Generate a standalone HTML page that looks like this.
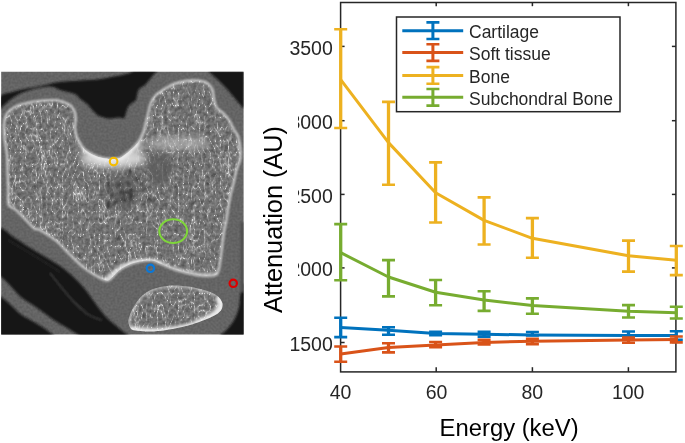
<!DOCTYPE html>
<html><head><meta charset="utf-8"><style>
html,body{margin:0;padding:0;background:#fff;width:685px;height:443px;overflow:hidden}
svg{position:absolute;left:0;top:0;will-change:transform}
text{font-family:"Liberation Sans",sans-serif}
</style></head><body>
<svg width="685" height="443" viewBox="0 0 685 443">
<defs>
<filter id="tex" x="0" y="0" width="1" height="1" color-interpolation-filters="sRGB">
 <feTurbulence type="turbulence" baseFrequency="0.19 0.085" numOctaves="2" seed="7" result="n"/>
 <feColorMatrix in="n" type="matrix" values="-1 0 0 0 1  -1 0 0 0 1  -1 0 0 0 1  0 0 0 0 1" result="inv"/>
 <feComponentTransfer in="inv" result="lines"><feFuncR type="gamma" amplitude="1" exponent="12" offset="0"/><feFuncG type="gamma" amplitude="1" exponent="12" offset="0"/><feFuncB type="gamma" amplitude="1" exponent="12" offset="0"/></feComponentTransfer>
 <feTurbulence type="fractalNoise" baseFrequency="0.28" numOctaves="2" seed="2" result="fn0"/><feColorMatrix in="fn0" type="matrix" values="1 0 0 0 0  1 0 0 0 0  1 0 0 0 0  0 0 0 0 1" result="fn"/>
 <feComposite in="lines" in2="fn" operator="arithmetic" k1="0" k2="0.40" k3="0.30" k4="0.275" result="sc"/>
 <feGaussianBlur in="sc" stdDeviation="0.65" result="sb"/>
 <feComposite in="sb" in2="SourceAlpha" operator="in"/>
</filter>
<filter id="nz" x="0" y="0" width="1" height="1" color-interpolation-filters="sRGB">
 <feTurbulence type="fractalNoise" baseFrequency="0.45" numOctaves="1" seed="5" result="fn"/>
 <feColorMatrix in="fn" type="matrix" values="0 0 0 0 0  0 0 0 0 0  0 0 0 0 0  0.25 0 0 0 -0.05" result="a"/>
 <feComposite in="a" in2="SourceAlpha" operator="in" result="b"/>
 <feMerge><feMergeNode in="SourceGraphic"/><feMergeNode in="b"/></feMerge>
</filter>
<filter id="bl1"><feGaussianBlur stdDeviation="0.8"/></filter>
<filter id="bl2"><feGaussianBlur stdDeviation="3"/></filter>
<filter id="bl3"><feGaussianBlur stdDeviation="1.6"/></filter>
<clipPath id="ctc"><rect x="1.2" y="71.8" width="242.4" height="262.8"/></clipPath>
<clipPath id="femc"><path d="M7.0,155.0 C6.7,150.8 6.0,148.3 5.5,145.0 C5.0,141.7 4.5,138.3 4.2,135.0 C4.0,131.7 3.8,128.0 4.0,125.0 C4.2,122.0 4.5,119.3 5.3,117.0 C6.1,114.7 6.9,112.9 9.0,111.0 C11.1,109.1 15.0,106.8 18.0,105.5 C21.0,104.2 23.7,103.8 27.0,103.0 C30.3,102.2 32.9,101.5 38.0,101.0 C43.1,100.5 52.4,99.7 57.6,100.3 C62.8,100.9 66.3,102.9 69.0,104.5 C71.7,106.1 72.9,107.8 74.0,110.0 C75.1,112.2 75.6,115.1 75.8,118.0 C76.0,120.9 74.7,124.4 74.9,127.6 C75.1,130.8 75.5,133.8 76.8,137.0 C78.1,140.2 80.6,144.3 82.5,146.8 C84.4,149.3 85.6,150.4 88.0,152.0 C90.4,153.6 94.0,155.4 97.0,156.5 C100.0,157.6 103.3,158.1 106.0,158.5 C108.7,158.9 110.5,159.2 113.0,159.0 C115.5,158.8 118.2,158.9 121.0,157.5 C123.8,156.1 127.2,153.0 130.0,150.6 C132.8,148.2 135.4,145.9 137.6,143.0 C139.8,140.1 141.4,137.2 143.0,133.0 C144.6,128.8 145.7,123.1 147.0,118.0 C148.3,112.9 149.5,106.4 151.0,102.6 C152.5,98.8 153.5,97.4 156.0,95.0 C158.5,92.6 162.6,90.1 165.8,88.2 C169.0,86.3 171.6,84.7 175.4,83.4 C179.2,82.1 185.0,81.1 188.8,80.6 C192.6,80.1 195.4,80.2 198.4,80.6 C201.4,81.0 204.7,81.5 207.0,83.0 C209.3,84.5 211.1,86.8 212.3,89.5 C213.5,92.2 213.3,96.0 214.0,99.0 C214.7,102.0 214.9,105.0 216.5,107.4 C218.1,109.8 221.2,111.1 223.3,113.2 C225.4,115.3 227.2,117.3 229.0,120.0 C230.8,122.7 232.5,127.0 233.9,129.5 C235.3,132.0 236.6,132.8 237.5,135.0 C238.4,137.2 239.0,140.2 239.5,143.0 C240.0,145.8 240.5,149.2 240.6,152.0 C240.7,154.8 240.5,157.5 240.0,160.0 C239.5,162.5 238.2,164.7 237.5,167.0 C236.8,169.3 236.2,171.3 235.5,174.0 C234.8,176.7 234.3,180.0 233.5,183.4 C232.7,186.8 231.5,190.6 230.7,194.2 C229.9,197.8 229.4,200.7 228.7,205.0 C228.0,209.3 227.2,215.3 226.4,220.0 C225.6,224.7 224.6,228.2 223.8,233.0 C223.0,237.8 222.4,244.0 221.8,249.0 C221.2,254.0 220.6,259.4 220.0,263.0 C219.4,266.6 219.2,268.5 218.5,270.5 C217.8,272.5 217.8,274.1 215.5,275.0 C213.2,275.9 208.2,276.0 205.0,276.0 C201.8,276.0 199.5,275.4 196.0,274.8 C192.5,274.2 188.0,273.4 184.0,272.3 C180.0,271.2 176.0,270.0 172.0,268.5 C168.0,267.0 163.4,264.8 160.0,263.5 C156.6,262.2 155.2,260.8 151.8,260.5 C148.5,260.2 143.9,260.7 139.9,261.5 C135.9,262.3 131.4,263.7 127.9,265.2 C124.4,266.7 121.8,268.3 119.0,270.5 C116.2,272.7 113.1,276.7 111.0,278.4 C108.9,280.1 108.9,281.0 106.3,280.5 C103.7,280.0 99.0,277.4 95.3,275.3 C91.6,273.2 88.2,271.2 84.2,268.0 C80.2,264.8 76.3,260.9 71.6,256.3 C66.9,251.7 61.1,244.9 55.8,240.5 C50.5,236.1 43.5,232.0 40.0,230.0 C36.5,228.0 37.0,230.5 34.5,228.7 C32.0,226.9 28.2,222.2 25.0,219.0 C21.8,215.8 18.1,211.9 15.4,209.5 C12.7,207.1 9.8,207.9 8.6,204.7 C7.4,201.4 8.4,195.8 8.2,190.0 C8.0,184.2 7.7,175.8 7.5,170.0 C7.3,164.2 7.3,159.2 7.0,155.0 Z"/></clipPath>
<clipPath id="patc"><path d="M128.4,322.0 C128.2,319.8 128.9,318.2 129.6,316.0 C130.3,313.8 131.3,311.5 132.6,309.0 C133.9,306.5 135.7,303.2 137.6,300.8 C139.5,298.4 141.5,296.2 144.0,294.3 C146.5,292.4 149.3,290.6 152.5,289.3 C155.7,288.0 159.4,287.1 163.2,286.5 C166.9,285.9 170.6,285.3 175.0,285.4 C179.4,285.4 184.9,286.0 189.9,286.8 C194.9,287.6 201.0,289.2 204.8,290.3 C208.7,291.4 210.6,292.1 213.0,293.3 C215.4,294.5 217.4,295.8 219.0,297.5 C220.6,299.2 222.1,301.5 222.5,303.5 C222.9,305.5 222.4,307.8 221.5,309.5 C220.6,311.2 219.0,312.6 217.0,314.0 C215.0,315.4 212.1,316.7 209.3,318.0 C206.5,319.3 203.5,320.4 200.3,321.6 C197.1,322.8 193.4,324.1 189.9,325.1 C186.4,326.1 183.7,326.8 179.5,327.6 C175.3,328.5 169.8,329.6 165.0,330.2 C160.2,330.8 155.1,331.4 150.6,331.5 C146.1,331.6 141.3,331.2 138.0,330.8 C134.7,330.4 132.6,330.5 131.0,329.0 C129.4,327.5 128.6,324.2 128.4,322.0 Z"/></clipPath>
</defs>
<g clip-path="url(#ctc)">
<rect x="0" y="70" width="246" height="268" fill="#6d6d6d" filter="url(#nz)"/>
<g filter="url(#bl1)">
<path d="M0.0,96.5 C2.2,93.6 9.0,93.1 13.5,91.8 C18.0,90.5 22.6,89.5 27.0,88.6 C31.4,87.7 36.2,87.0 40.0,86.2 C43.8,85.4 47.0,84.7 50.0,84.0 C53.0,83.3 53.0,82.9 58.0,82.3 C63.0,81.7 73.2,81.1 80.0,80.6 C86.8,80.1 92.7,80.0 99.0,79.2 C105.3,78.4 112.8,76.8 118.0,75.8 C123.2,74.8 127.2,73.7 130.0,72.9 C132.8,72.1 130.5,71.3 135.0,71.0 C139.5,70.7 153.7,70.7 157.0,71.0 C160.3,71.3 156.2,71.7 155.0,73.0 C153.8,74.3 151.7,77.0 150.0,79.0 C148.3,81.0 146.8,83.3 145.0,85.0 C143.2,86.7 140.3,87.3 139.0,89.0 C137.7,90.7 137.5,93.2 137.0,95.0 C136.5,96.8 136.8,98.7 136.0,100.0 C135.2,101.3 133.3,101.8 132.0,103.0 C130.7,104.2 129.0,105.3 128.0,107.0 C127.0,108.7 126.7,111.2 126.0,113.0 C125.3,114.8 125.3,117.2 124.0,118.0 C122.7,118.8 120.9,117.4 118.4,117.5 C115.9,117.6 112.0,118.8 108.8,118.5 C105.6,118.2 101.8,117.2 99.2,116.0 C96.6,114.8 95.3,113.2 93.4,111.3 C91.5,109.4 89.9,106.6 87.7,104.5 C85.5,102.4 82.0,100.5 80.0,98.8 C78.0,97.1 78.0,95.6 76.0,94.5 C74.0,93.4 70.7,92.8 68.0,92.0 C65.3,91.2 62.0,90.7 60.0,90.0 C58.0,89.3 57.7,88.6 56.0,88.0 C54.3,87.4 52.7,86.5 50.0,86.5 C47.3,86.5 43.3,87.2 40.0,87.8 C36.7,88.4 33.3,89.0 30.0,90.0 C26.7,91.0 23.3,91.8 20.0,93.5 C16.7,95.2 12.8,97.9 10.0,100.0 C7.2,102.1 4.7,104.5 3.0,106.0 C1.3,107.5 0.5,110.6 0.0,109.0 C-0.5,107.4 -2.2,99.4 0.0,96.5 Z" fill="#151515"/>
<path d="M208.0,71.0 L244.0,71.0 L244.0,108.5 L242.5,107.4 L236.8,100.7 L227.0,89.0 L217.6,79.6 Z" fill="#161616"/>
<path d="M-2.0,230.0 C0.7,223.8 8.9,234.7 14.0,237.5 C19.1,240.3 24.0,244.1 28.7,247.0 C33.4,249.9 37.3,252.2 42.0,255.0 C46.7,257.8 53.0,261.4 57.0,264.0 C61.0,266.6 63.0,268.1 66.0,270.5 C69.0,272.9 72.0,275.6 75.0,278.5 C78.0,281.4 81.2,284.7 84.0,288.0 C86.8,291.3 89.1,294.8 91.7,298.3 C94.3,301.8 97.0,305.7 99.5,309.0 C102.0,312.3 104.3,315.3 107.0,318.0 C109.7,320.7 112.8,323.1 115.5,325.3 C118.2,327.6 120.4,329.6 123.0,331.5 C125.6,333.4 129.7,335.6 131.0,337.0 C132.3,338.4 138.5,339.5 131.0,340.0 C123.5,340.5 94.5,340.7 86.0,340.0 C77.5,339.3 81.7,337.1 80.0,336.0 C78.3,334.9 78.2,334.9 76.0,333.5 C73.8,332.1 70.2,329.8 66.7,327.7 C63.2,325.6 58.9,323.2 55.0,320.7 C51.1,318.2 47.3,315.2 43.4,312.5 C39.5,309.8 35.6,307.0 31.7,304.3 C27.8,301.6 23.6,299.3 20.0,296.2 C16.4,293.1 13.4,288.9 10.3,285.7 C7.2,282.5 3.5,278.8 1.4,277.0 C-0.7,275.2 -1.4,282.8 -2.0,275.0 C-2.6,267.2 -4.7,236.2 -2.0,230.0 Z" fill="#171717"/>
<path d="M-2.0,296.0 C-1.4,288.8 -0.7,295.5 1.4,296.9 C3.5,298.3 7.2,301.8 10.3,304.6 C13.4,307.4 16.4,311.0 20.0,313.7 C23.6,316.4 27.8,318.4 31.7,320.7 C35.6,323.0 40.1,325.6 43.4,327.7 C46.7,329.8 49.7,332.1 51.5,333.5 C53.3,334.9 53.2,334.9 54.0,336.0 C54.8,337.1 65.3,339.3 56.0,340.0 C46.7,340.7 7.7,347.3 -2.0,340.0 C-11.7,332.7 -2.6,303.2 -2.0,296.0 Z" fill="#151515"/>
<path d="M246.0,286.0 C245.2,277.8 242.4,288.7 241.4,290.5 C240.4,292.3 240.4,294.2 240.0,297.0 C239.6,299.8 239.9,303.5 239.0,307.2 C238.1,310.9 236.6,315.5 234.6,319.2 C232.6,322.9 229.5,326.8 227.0,329.6 C224.5,332.4 221.0,334.3 219.7,336.0 C218.4,337.7 214.6,339.3 219.0,340.0 C223.4,340.7 241.5,349.0 246.0,340.0 C250.5,331.0 246.8,294.2 246.0,286.0 Z" fill="#161616"/>
<path d="M240.5,222 L244,222 L244,292 L240.5,292Z" fill="#4e4e4e"/>
<path d="M50,273 C58,283 66,294 75.6,303.5 C80,308 84,311 87,313.9 C92,317 97,319 101.5,320" fill="none" stroke="#4a4a4a" stroke-width="1.1"/>
<path d="M8,240 C25,250 45,262 60,272" fill="none" stroke="#333" stroke-width="1"/>
</g>
<path d="M7.0,155.0 C6.7,150.8 6.0,148.3 5.5,145.0 C5.0,141.7 4.5,138.3 4.2,135.0 C4.0,131.7 3.8,128.0 4.0,125.0 C4.2,122.0 4.5,119.3 5.3,117.0 C6.1,114.7 6.9,112.9 9.0,111.0 C11.1,109.1 15.0,106.8 18.0,105.5 C21.0,104.2 23.7,103.8 27.0,103.0 C30.3,102.2 32.9,101.5 38.0,101.0 C43.1,100.5 52.4,99.7 57.6,100.3 C62.8,100.9 66.3,102.9 69.0,104.5 C71.7,106.1 72.9,107.8 74.0,110.0 C75.1,112.2 75.6,115.1 75.8,118.0 C76.0,120.9 74.7,124.4 74.9,127.6 C75.1,130.8 75.5,133.8 76.8,137.0 C78.1,140.2 80.6,144.3 82.5,146.8 C84.4,149.3 85.6,150.4 88.0,152.0 C90.4,153.6 94.0,155.4 97.0,156.5 C100.0,157.6 103.3,158.1 106.0,158.5 C108.7,158.9 110.5,159.2 113.0,159.0 C115.5,158.8 118.2,158.9 121.0,157.5 C123.8,156.1 127.2,153.0 130.0,150.6 C132.8,148.2 135.4,145.9 137.6,143.0 C139.8,140.1 141.4,137.2 143.0,133.0 C144.6,128.8 145.7,123.1 147.0,118.0 C148.3,112.9 149.5,106.4 151.0,102.6 C152.5,98.8 153.5,97.4 156.0,95.0 C158.5,92.6 162.6,90.1 165.8,88.2 C169.0,86.3 171.6,84.7 175.4,83.4 C179.2,82.1 185.0,81.1 188.8,80.6 C192.6,80.1 195.4,80.2 198.4,80.6 C201.4,81.0 204.7,81.5 207.0,83.0 C209.3,84.5 211.1,86.8 212.3,89.5 C213.5,92.2 213.3,96.0 214.0,99.0 C214.7,102.0 214.9,105.0 216.5,107.4 C218.1,109.8 221.2,111.1 223.3,113.2 C225.4,115.3 227.2,117.3 229.0,120.0 C230.8,122.7 232.5,127.0 233.9,129.5 C235.3,132.0 236.6,132.8 237.5,135.0 C238.4,137.2 239.0,140.2 239.5,143.0 C240.0,145.8 240.5,149.2 240.6,152.0 C240.7,154.8 240.5,157.5 240.0,160.0 C239.5,162.5 238.2,164.7 237.5,167.0 C236.8,169.3 236.2,171.3 235.5,174.0 C234.8,176.7 234.3,180.0 233.5,183.4 C232.7,186.8 231.5,190.6 230.7,194.2 C229.9,197.8 229.4,200.7 228.7,205.0 C228.0,209.3 227.2,215.3 226.4,220.0 C225.6,224.7 224.6,228.2 223.8,233.0 C223.0,237.8 222.4,244.0 221.8,249.0 C221.2,254.0 220.6,259.4 220.0,263.0 C219.4,266.6 219.2,268.5 218.5,270.5 C217.8,272.5 217.8,274.1 215.5,275.0 C213.2,275.9 208.2,276.0 205.0,276.0 C201.8,276.0 199.5,275.4 196.0,274.8 C192.5,274.2 188.0,273.4 184.0,272.3 C180.0,271.2 176.0,270.0 172.0,268.5 C168.0,267.0 163.4,264.8 160.0,263.5 C156.6,262.2 155.2,260.8 151.8,260.5 C148.5,260.2 143.9,260.7 139.9,261.5 C135.9,262.3 131.4,263.7 127.9,265.2 C124.4,266.7 121.8,268.3 119.0,270.5 C116.2,272.7 113.1,276.7 111.0,278.4 C108.9,280.1 108.9,281.0 106.3,280.5 C103.7,280.0 99.0,277.4 95.3,275.3 C91.6,273.2 88.2,271.2 84.2,268.0 C80.2,264.8 76.3,260.9 71.6,256.3 C66.9,251.7 61.1,244.9 55.8,240.5 C50.5,236.1 43.5,232.0 40.0,230.0 C36.5,228.0 37.0,230.5 34.5,228.7 C32.0,226.9 28.2,222.2 25.0,219.0 C21.8,215.8 18.1,211.9 15.4,209.5 C12.7,207.1 9.8,207.9 8.6,204.7 C7.4,201.4 8.4,195.8 8.2,190.0 C8.0,184.2 7.7,175.8 7.5,170.0 C7.3,164.2 7.3,159.2 7.0,155.0 Z" fill="#8b8b8b" filter="url(#tex)"/>
<path d="M128.4,322.0 C128.2,319.8 128.9,318.2 129.6,316.0 C130.3,313.8 131.3,311.5 132.6,309.0 C133.9,306.5 135.7,303.2 137.6,300.8 C139.5,298.4 141.5,296.2 144.0,294.3 C146.5,292.4 149.3,290.6 152.5,289.3 C155.7,288.0 159.4,287.1 163.2,286.5 C166.9,285.9 170.6,285.3 175.0,285.4 C179.4,285.4 184.9,286.0 189.9,286.8 C194.9,287.6 201.0,289.2 204.8,290.3 C208.7,291.4 210.6,292.1 213.0,293.3 C215.4,294.5 217.4,295.8 219.0,297.5 C220.6,299.2 222.1,301.5 222.5,303.5 C222.9,305.5 222.4,307.8 221.5,309.5 C220.6,311.2 219.0,312.6 217.0,314.0 C215.0,315.4 212.1,316.7 209.3,318.0 C206.5,319.3 203.5,320.4 200.3,321.6 C197.1,322.8 193.4,324.1 189.9,325.1 C186.4,326.1 183.7,326.8 179.5,327.6 C175.3,328.5 169.8,329.6 165.0,330.2 C160.2,330.8 155.1,331.4 150.6,331.5 C146.1,331.6 141.3,331.2 138.0,330.8 C134.7,330.4 132.6,330.5 131.0,329.0 C129.4,327.5 128.6,324.2 128.4,322.0 Z" fill="#8e8e8e" filter="url(#tex)"/>
<g clip-path="url(#femc)">
<g filter="url(#bl2)">
<ellipse cx="113" cy="159" rx="32" ry="9" fill="#dedede" opacity="0.9"/><ellipse cx="88" cy="148" rx="8" ry="12" fill="#cfcfcf" opacity="0.6"/><ellipse cx="136" cy="146" rx="8" ry="12" fill="#cfcfcf" opacity="0.6"/>
<ellipse cx="178" cy="143" rx="32" ry="7" fill="#c8c8c8" opacity="0.55"/>
<ellipse cx="160" cy="168" rx="13" ry="16" fill="#585858" opacity="0.75"/>
<ellipse cx="125" cy="190" rx="16" ry="22" fill="#555" opacity="0.45"/>
</g>
</g>
<g clip-path="url(#femc)"><g filter="url(#bl1)"><ellipse cx="111.8" cy="195.3" rx="1.7" ry="1.9" fill="#2a2a2a" opacity="0.70"/><ellipse cx="118.5" cy="185.3" rx="1.3" ry="2.1" fill="#2a2a2a" opacity="0.82"/><ellipse cx="131.1" cy="196.6" rx="0.9" ry="2.3" fill="#2a2a2a" opacity="0.78"/><ellipse cx="151.4" cy="200.3" rx="1.8" ry="2.1" fill="#2a2a2a" opacity="0.75"/><ellipse cx="125.0" cy="192.0" rx="1.3" ry="1.3" fill="#2a2a2a" opacity="0.58"/><ellipse cx="124.1" cy="193.5" rx="1.3" ry="1.8" fill="#2a2a2a" opacity="0.84"/><ellipse cx="109.8" cy="187.6" rx="1.3" ry="2.1" fill="#2a2a2a" opacity="0.68"/><ellipse cx="117.9" cy="238.0" rx="1.8" ry="2.4" fill="#2a2a2a" opacity="0.78"/><ellipse cx="121.1" cy="199.3" rx="1.1" ry="1.3" fill="#2a2a2a" opacity="0.81"/><ellipse cx="108.3" cy="205.9" rx="1.2" ry="2.5" fill="#2a2a2a" opacity="0.84"/><ellipse cx="130.9" cy="190.0" rx="1.7" ry="1.9" fill="#2a2a2a" opacity="0.89"/><ellipse cx="120.9" cy="193.3" rx="1.4" ry="2.3" fill="#2a2a2a" opacity="0.61"/><ellipse cx="131.7" cy="196.6" rx="1.8" ry="2.3" fill="#2a2a2a" opacity="0.55"/><ellipse cx="124.1" cy="196.5" rx="0.9" ry="2.3" fill="#2a2a2a" opacity="0.57"/><ellipse cx="113.9" cy="184.4" rx="1.0" ry="2.2" fill="#2a2a2a" opacity="0.55"/><ellipse cx="120.9" cy="184.5" rx="1.2" ry="1.5" fill="#2a2a2a" opacity="0.61"/><ellipse cx="141.7" cy="185.4" rx="1.1" ry="2.4" fill="#2a2a2a" opacity="0.58"/><ellipse cx="108.5" cy="206.9" rx="1.4" ry="1.3" fill="#2a2a2a" opacity="0.90"/><ellipse cx="125.8" cy="200.5" rx="1.6" ry="1.7" fill="#2a2a2a" opacity="0.62"/><ellipse cx="127.9" cy="192.7" rx="1.4" ry="1.5" fill="#2a2a2a" opacity="0.74"/><ellipse cx="116.4" cy="201.1" rx="1.8" ry="1.9" fill="#2a2a2a" opacity="0.73"/><ellipse cx="128.2" cy="183.4" rx="1.0" ry="2.5" fill="#2a2a2a" opacity="0.83"/><ellipse cx="124.0" cy="199.1" rx="1.5" ry="2.5" fill="#2a2a2a" opacity="0.58"/><ellipse cx="143.7" cy="181.1" rx="1.4" ry="1.8" fill="#2a2a2a" opacity="0.54"/><ellipse cx="148.9" cy="198.6" rx="1.0" ry="2.2" fill="#2a2a2a" opacity="0.60"/><ellipse cx="130.0" cy="173.1" rx="1.1" ry="1.4" fill="#2a2a2a" opacity="0.79"/><ellipse cx="130.5" cy="194.2" rx="1.4" ry="2.4" fill="#2a2a2a" opacity="0.75"/><ellipse cx="119.8" cy="220.7" rx="1.0" ry="1.2" fill="#2a2a2a" opacity="0.61"/><ellipse cx="120.7" cy="191.7" rx="1.0" ry="1.7" fill="#2a2a2a" opacity="0.73"/><ellipse cx="130.4" cy="199.8" rx="1.7" ry="2.6" fill="#2a2a2a" opacity="0.76"/><ellipse cx="119.2" cy="172.7" rx="0.9" ry="1.2" fill="#2a2a2a" opacity="0.51"/><ellipse cx="137.1" cy="178.4" rx="1.8" ry="1.2" fill="#2a2a2a" opacity="0.75"/><ellipse cx="107.9" cy="192.5" rx="1.1" ry="2.6" fill="#2a2a2a" opacity="0.53"/><ellipse cx="108.3" cy="183.5" rx="1.7" ry="2.2" fill="#2a2a2a" opacity="0.78"/><ellipse cx="130.0" cy="170.8" rx="1.5" ry="2.5" fill="#2a2a2a" opacity="0.85"/><ellipse cx="108.7" cy="202.3" rx="1.7" ry="2.0" fill="#2a2a2a" opacity="0.75"/><ellipse cx="114.2" cy="202.5" rx="1.4" ry="1.3" fill="#2a2a2a" opacity="0.76"/><ellipse cx="144.6" cy="188.8" rx="1.5" ry="1.7" fill="#2a2a2a" opacity="0.79"/><ellipse cx="214.5" cy="174" rx="1.3" ry="1.8" fill="#2a2a2a" opacity="0.8"/><ellipse cx="232.7" cy="174.5" rx="1.3" ry="1.8" fill="#2a2a2a" opacity="0.8"/><ellipse cx="36" cy="186" rx="1.3" ry="1.8" fill="#2a2a2a" opacity="0.8"/><ellipse cx="62" cy="238" rx="1.3" ry="1.8" fill="#2a2a2a" opacity="0.8"/><ellipse cx="79" cy="256" rx="1.3" ry="1.8" fill="#2a2a2a" opacity="0.8"/><ellipse cx="192" cy="204" rx="1.3" ry="1.8" fill="#2a2a2a" opacity="0.8"/><ellipse cx="208" cy="183" rx="1.3" ry="1.8" fill="#2a2a2a" opacity="0.8"/></g></g>
<g filter="url(#bl1)" fill="none" stroke="#e4e4e4" stroke-width="2.2">
<path d="M7.0,155.0 C6.7,150.8 6.0,148.3 5.5,145.0 C5.0,141.7 4.5,138.3 4.2,135.0 C4.0,131.7 3.8,128.0 4.0,125.0 C4.2,122.0 4.5,119.3 5.3,117.0 C6.1,114.7 6.9,112.9 9.0,111.0 C11.1,109.1 15.0,106.8 18.0,105.5 C21.0,104.2 23.7,103.8 27.0,103.0 C30.3,102.2 32.9,101.5 38.0,101.0 C43.1,100.5 52.4,99.7 57.6,100.3 C62.8,100.9 66.3,102.9 69.0,104.5 C71.7,106.1 72.9,107.8 74.0,110.0 C75.1,112.2 75.6,115.1 75.8,118.0 C76.0,120.9 74.7,124.4 74.9,127.6 C75.1,130.8 75.5,133.8 76.8,137.0 C78.1,140.2 80.6,144.3 82.5,146.8 C84.4,149.3 85.6,150.4 88.0,152.0 C90.4,153.6 94.0,155.4 97.0,156.5 C100.0,157.6 103.3,158.1 106.0,158.5 C108.7,158.9 110.5,159.2 113.0,159.0 C115.5,158.8 118.2,158.9 121.0,157.5 C123.8,156.1 127.2,153.0 130.0,150.6 C132.8,148.2 135.4,145.9 137.6,143.0 C139.8,140.1 141.4,137.2 143.0,133.0 C144.6,128.8 145.7,123.1 147.0,118.0 C148.3,112.9 149.5,106.4 151.0,102.6 C152.5,98.8 153.5,97.4 156.0,95.0 C158.5,92.6 162.6,90.1 165.8,88.2 C169.0,86.3 171.6,84.7 175.4,83.4 C179.2,82.1 185.0,81.1 188.8,80.6 C192.6,80.1 195.4,80.2 198.4,80.6 C201.4,81.0 204.7,81.5 207.0,83.0 C209.3,84.5 211.1,86.8 212.3,89.5 C213.5,92.2 213.3,96.0 214.0,99.0 C214.7,102.0 214.9,105.0 216.5,107.4 C218.1,109.8 221.2,111.1 223.3,113.2 C225.4,115.3 227.2,117.3 229.0,120.0 C230.8,122.7 232.5,127.0 233.9,129.5 C235.3,132.0 236.6,132.8 237.5,135.0 C238.4,137.2 239.0,140.2 239.5,143.0 C240.0,145.8 240.5,149.2 240.6,152.0 C240.7,154.8 240.5,157.5 240.0,160.0 C239.5,162.5 238.2,164.7 237.5,167.0 C236.8,169.3 236.2,171.3 235.5,174.0 C234.8,176.7 234.3,180.0 233.5,183.4 C232.7,186.8 231.5,190.6 230.7,194.2 C229.9,197.8 229.4,200.7 228.7,205.0 C228.0,209.3 227.2,215.3 226.4,220.0 C225.6,224.7 224.6,228.2 223.8,233.0 C223.0,237.8 222.4,244.0 221.8,249.0 C221.2,254.0 220.6,259.4 220.0,263.0 C219.4,266.6 219.2,268.5 218.5,270.5 C217.8,272.5 217.8,274.1 215.5,275.0 C213.2,275.9 208.2,276.0 205.0,276.0 C201.8,276.0 199.5,275.4 196.0,274.8 C192.5,274.2 188.0,273.4 184.0,272.3 C180.0,271.2 176.0,270.0 172.0,268.5 C168.0,267.0 163.4,264.8 160.0,263.5 C156.6,262.2 155.2,260.8 151.8,260.5 C148.5,260.2 143.9,260.7 139.9,261.5 C135.9,262.3 131.4,263.7 127.9,265.2 C124.4,266.7 121.8,268.3 119.0,270.5 C116.2,272.7 113.1,276.7 111.0,278.4 C108.9,280.1 108.9,281.0 106.3,280.5 C103.7,280.0 99.0,277.4 95.3,275.3 C91.6,273.2 88.2,271.2 84.2,268.0 C80.2,264.8 76.3,260.9 71.6,256.3 C66.9,251.7 61.1,244.9 55.8,240.5 C50.5,236.1 43.5,232.0 40.0,230.0 C36.5,228.0 37.0,230.5 34.5,228.7 C32.0,226.9 28.2,222.2 25.0,219.0 C21.8,215.8 18.1,211.9 15.4,209.5 C12.7,207.1 9.8,207.9 8.6,204.7 C7.4,201.4 8.4,195.8 8.2,190.0 C8.0,184.2 7.7,175.8 7.5,170.0 C7.3,164.2 7.3,159.2 7.0,155.0 Z" stroke-opacity="0.85"/>
</g>
<g clip-path="url(#patc)"><g filter="url(#bl3)" fill="none" stroke="#f2f2f2">
<path d="M128.4,322.0 C128.2,319.8 128.9,318.2 129.6,316.0 C130.3,313.8 131.3,311.5 132.6,309.0 C133.9,306.5 135.7,303.2 137.6,300.8 C139.5,298.4 141.5,296.2 144.0,294.3 C146.5,292.4 149.3,290.6 152.5,289.3 C155.7,288.0 159.4,287.1 163.2,286.5 C166.9,285.9 170.6,285.3 175.0,285.4 C179.4,285.4 184.9,286.0 189.9,286.8 C194.9,287.6 201.0,289.2 204.8,290.3 C208.7,291.4 210.6,292.1 213.0,293.3 C215.4,294.5 217.4,295.8 219.0,297.5 C220.6,299.2 222.1,301.5 222.5,303.5 C222.9,305.5 222.4,307.8 221.5,309.5 C220.6,311.2 219.0,312.6 217.0,314.0 C215.0,315.4 212.1,316.7 209.3,318.0 C206.5,319.3 203.5,320.4 200.3,321.6 C197.1,322.8 193.4,324.1 189.9,325.1 C186.4,326.1 183.7,326.8 179.5,327.6 C175.3,328.5 169.8,329.6 165.0,330.2 C160.2,330.8 155.1,331.4 150.6,331.5 C146.1,331.6 141.3,331.2 138.0,330.8 C134.7,330.4 132.6,330.5 131.0,329.0 C129.4,327.5 128.6,324.2 128.4,322.0 Z" stroke-width="3.5" stroke-opacity="0.55"/>
<path d="M196,324 C206,321 216,316 220.5,309 C222.5,305 221,300 218,297" stroke-width="8" stroke-opacity="0.9"/>
<path d="M130,329.5 C150,333.5 175,331.5 198,324" stroke-width="7" stroke-opacity="0.9"/>
</g></g>
<g clip-path="url(#femc)"><g filter="url(#bl3)" fill="none" stroke="#f0f0f0">
<path d="M104,281 C112,276 118,268 128,264.5 C138,261 150,259 162,264" stroke-width="5" stroke-opacity="0.8"/>
<path d="M160,264 C180,271 200,276 218,274" stroke-width="3" stroke-opacity="0.5"/>
<path d="M84,148 C95,157 105,160 113,160 C122,160 130,152 138,142" stroke-width="6" stroke-opacity="0.7"/>
</g></g>
<circle cx="113.6" cy="161.6" r="3.8" fill="none" stroke="#f4bc00" stroke-width="2.1"/>
<circle cx="150.4" cy="268.3" r="3.7" fill="none" stroke="#0a78d8" stroke-width="2.2"/>
<circle cx="233.25" cy="283.3" r="3.7" fill="none" stroke="#dc0000" stroke-width="2.2"/>
<ellipse cx="173.2" cy="231.1" rx="13.9" ry="11.9" fill="none" stroke="#7fd63a" stroke-width="2.1"/>
</g>
<text x="332.8" y="54.6" font-size="19.5" text-anchor="end" fill="#262626">3500</text><text x="332.8" y="128.9" font-size="19.5" text-anchor="end" fill="#262626">3000</text><text x="332.8" y="202.6" font-size="19.5" text-anchor="end" fill="#262626">2500</text><text x="332.8" y="276.1" font-size="19.5" text-anchor="end" fill="#262626">2000</text><text x="332.8" y="350.7" font-size="19.5" text-anchor="end" fill="#262626">1500</text><text x="340.6" y="398.7" font-size="19.5" text-anchor="middle" fill="#262626">40</text><text x="436.5" y="398.7" font-size="19.5" text-anchor="middle" fill="#262626">60</text><text x="532.3" y="398.7" font-size="19.5" text-anchor="middle" fill="#262626">80</text><text x="628.2" y="398.7" font-size="19.5" text-anchor="middle" fill="#262626">100</text>
<rect x="250" y="80" width="48" height="245" fill="#fff"/>
<text transform="translate(281.6,313) rotate(-90)" font-size="25.3" fill="#000">Attenuation (AU)</text>
<text x="439.6" y="435.8" font-size="23.5" fill="#000" textLength="139" lengthAdjust="spacingAndGlyphs">Energy (keV)</text>
<rect x="340.6" y="2.5" width="335.3" height="369.4" fill="none" stroke="#262626" stroke-width="1.5"/><line x1="340.6" y1="46.4" x2="344.6" y2="46.4" stroke="#262626" stroke-width="1.5"/><line x1="675.9" y1="46.4" x2="671.9" y2="46.4" stroke="#262626" stroke-width="1.5"/><line x1="340.6" y1="120.7" x2="344.6" y2="120.7" stroke="#262626" stroke-width="1.5"/><line x1="675.9" y1="120.7" x2="671.9" y2="120.7" stroke="#262626" stroke-width="1.5"/><line x1="340.6" y1="194.4" x2="344.6" y2="194.4" stroke="#262626" stroke-width="1.5"/><line x1="675.9" y1="194.4" x2="671.9" y2="194.4" stroke="#262626" stroke-width="1.5"/><line x1="340.6" y1="267.9" x2="344.6" y2="267.9" stroke="#262626" stroke-width="1.5"/><line x1="675.9" y1="267.9" x2="671.9" y2="267.9" stroke="#262626" stroke-width="1.5"/><line x1="340.6" y1="342.5" x2="344.6" y2="342.5" stroke="#262626" stroke-width="1.5"/><line x1="675.9" y1="342.5" x2="671.9" y2="342.5" stroke="#262626" stroke-width="1.5"/><line x1="436.2" y1="371.9" x2="436.2" y2="367.2" stroke="#262626" stroke-width="1.5"/><line x1="436.2" y1="2.5" x2="436.2" y2="6.2" stroke="#262626" stroke-width="1.5"/><line x1="532.4" y1="371.9" x2="532.4" y2="367.2" stroke="#262626" stroke-width="1.5"/><line x1="532.4" y1="2.5" x2="532.4" y2="6.2" stroke="#262626" stroke-width="1.5"/><line x1="628.4" y1="371.9" x2="628.4" y2="367.2" stroke="#262626" stroke-width="1.5"/><line x1="628.4" y1="2.5" x2="628.4" y2="6.2" stroke="#262626" stroke-width="1.5"/><path d="M340.7,327.6 L388.5,330.3 L435.6,333.6 L484.1,334.2 L532.4,335.0 L628.5,335.6 L676.3,335.6" fill="none" stroke="#0072BD" stroke-width="3.0" stroke-linejoin="round"/><path d="M340.7,317.8 V337.1" fill="none" stroke="#0072BD" stroke-width="3.3"/><path d="M334.2,317.8 H347.2 M334.2,337.1 H347.2" fill="none" stroke="#0072BD" stroke-width="2.6"/><path d="M388.5,327.2 V334.8" fill="none" stroke="#0072BD" stroke-width="3.3"/><path d="M382.0,327.2 H395.0 M382.0,334.8 H395.0" fill="none" stroke="#0072BD" stroke-width="2.6"/><path d="M435.6,331.9 V335.1" fill="none" stroke="#0072BD" stroke-width="3.3"/><path d="M429.1,331.9 H442.1 M429.1,335.1 H442.1" fill="none" stroke="#0072BD" stroke-width="2.6"/><path d="M484.1,331.7 V336.6" fill="none" stroke="#0072BD" stroke-width="3.3"/><path d="M477.6,331.7 H490.6 M477.6,336.6 H490.6" fill="none" stroke="#0072BD" stroke-width="2.6"/><path d="M532.4,332 V335.4" fill="none" stroke="#0072BD" stroke-width="3.3"/><path d="M525.9,332 H538.9 M525.9,335.4 H538.9" fill="none" stroke="#0072BD" stroke-width="2.6"/><path d="M628.5,331.5 V337.5" fill="none" stroke="#0072BD" stroke-width="3.3"/><path d="M622.0,331.5 H635.0 M622.0,337.5 H635.0" fill="none" stroke="#0072BD" stroke-width="2.6"/><path d="M676.3,331.2 V339.8" fill="none" stroke="#0072BD" stroke-width="3.3"/><path d="M669.8,331.2 H682.8 M669.8,339.8 H682.8" fill="none" stroke="#0072BD" stroke-width="2.6"/><path d="M340.7,354.0 L388.5,347.6 L435.6,344.9 L484.1,342.4 L532.4,341.3 L628.5,339.9 L676.3,339.5" fill="none" stroke="#D95319" stroke-width="3.0" stroke-linejoin="round"/><path d="M340.7,346.5 V361.8" fill="none" stroke="#D95319" stroke-width="3.3"/><path d="M334.2,346.5 H347.2 M334.2,361.8 H347.2" fill="none" stroke="#D95319" stroke-width="2.6"/><path d="M388.5,343.3 V352.4" fill="none" stroke="#D95319" stroke-width="3.3"/><path d="M382.0,343.3 H395.0 M382.0,352.4 H395.0" fill="none" stroke="#D95319" stroke-width="2.6"/><path d="M435.6,342 V347.2" fill="none" stroke="#D95319" stroke-width="3.3"/><path d="M429.1,342 H442.1 M429.1,347.2 H442.1" fill="none" stroke="#D95319" stroke-width="2.6"/><path d="M484.1,339.9 V344.4" fill="none" stroke="#D95319" stroke-width="3.3"/><path d="M477.6,339.9 H490.6 M477.6,344.4 H490.6" fill="none" stroke="#D95319" stroke-width="2.6"/><path d="M532.4,338.8 V344.1" fill="none" stroke="#D95319" stroke-width="3.3"/><path d="M525.9,338.8 H538.9 M525.9,344.1 H538.9" fill="none" stroke="#D95319" stroke-width="2.6"/><path d="M628.5,337.6 V342.8" fill="none" stroke="#D95319" stroke-width="3.3"/><path d="M622.0,337.6 H635.0 M622.0,342.8 H635.0" fill="none" stroke="#D95319" stroke-width="2.6"/><path d="M676.3,336.5 V342.4" fill="none" stroke="#D95319" stroke-width="3.3"/><path d="M669.8,336.5 H682.8 M669.8,342.4 H682.8" fill="none" stroke="#D95319" stroke-width="2.6"/><path d="M340.7,79.6 L388.5,142.6 L435.6,192.7 L484.1,220.4 L532.4,238.3 L628.5,255.8 L676.3,260.2" fill="none" stroke="#EDB120" stroke-width="3.0" stroke-linejoin="round"/><path d="M340.7,29.2 V128" fill="none" stroke="#EDB120" stroke-width="3.3"/><path d="M334.2,29.2 H347.2 M334.2,128 H347.2" fill="none" stroke="#EDB120" stroke-width="2.6"/><path d="M388.5,101.9 V184.8" fill="none" stroke="#EDB120" stroke-width="3.3"/><path d="M382.0,101.9 H395.0 M382.0,184.8 H395.0" fill="none" stroke="#EDB120" stroke-width="2.6"/><path d="M435.6,162.4 V222.5" fill="none" stroke="#EDB120" stroke-width="3.3"/><path d="M429.1,162.4 H442.1 M429.1,222.5 H442.1" fill="none" stroke="#EDB120" stroke-width="2.6"/><path d="M484.1,197.4 V244.5" fill="none" stroke="#EDB120" stroke-width="3.3"/><path d="M477.6,197.4 H490.6 M477.6,244.5 H490.6" fill="none" stroke="#EDB120" stroke-width="2.6"/><path d="M532.4,218.1 V257.8" fill="none" stroke="#EDB120" stroke-width="3.3"/><path d="M525.9,218.1 H538.9 M525.9,257.8 H538.9" fill="none" stroke="#EDB120" stroke-width="2.6"/><path d="M628.5,240.6 V271.6" fill="none" stroke="#EDB120" stroke-width="3.3"/><path d="M622.0,240.6 H635.0 M622.0,271.6 H635.0" fill="none" stroke="#EDB120" stroke-width="2.6"/><path d="M676.3,246 V275.1" fill="none" stroke="#EDB120" stroke-width="3.3"/><path d="M669.8,246 H682.8 M669.8,275.1 H682.8" fill="none" stroke="#EDB120" stroke-width="2.6"/><path d="M340.7,252.7 L388.5,277.0 L435.6,292.3 L484.1,300.0 L532.4,305.6 L628.5,311.3 L676.3,312.8" fill="none" stroke="#77AC30" stroke-width="3.0" stroke-linejoin="round"/><path d="M340.7,224.1 V280.2" fill="none" stroke="#77AC30" stroke-width="3.3"/><path d="M334.2,224.1 H347.2 M334.2,280.2 H347.2" fill="none" stroke="#77AC30" stroke-width="2.6"/><path d="M388.5,260.1 V296.4" fill="none" stroke="#77AC30" stroke-width="3.3"/><path d="M382.0,260.1 H395.0 M382.0,296.4 H395.0" fill="none" stroke="#77AC30" stroke-width="2.6"/><path d="M435.6,280 V305.2" fill="none" stroke="#77AC30" stroke-width="3.3"/><path d="M429.1,280 H442.1 M429.1,305.2 H442.1" fill="none" stroke="#77AC30" stroke-width="2.6"/><path d="M484.1,291.3 V310.9" fill="none" stroke="#77AC30" stroke-width="3.3"/><path d="M477.6,291.3 H490.6 M477.6,310.9 H490.6" fill="none" stroke="#77AC30" stroke-width="2.6"/><path d="M532.4,298.4 V313.8" fill="none" stroke="#77AC30" stroke-width="3.3"/><path d="M525.9,298.4 H538.9 M525.9,313.8 H538.9" fill="none" stroke="#77AC30" stroke-width="2.6"/><path d="M628.5,305.1 V317.5" fill="none" stroke="#77AC30" stroke-width="3.3"/><path d="M622.0,305.1 H635.0 M622.0,317.5 H635.0" fill="none" stroke="#77AC30" stroke-width="2.6"/><path d="M676.3,306.8 V318.5" fill="none" stroke="#77AC30" stroke-width="3.3"/><path d="M669.8,306.8 H682.8 M669.8,318.5 H682.8" fill="none" stroke="#77AC30" stroke-width="2.6"/>
<rect x="396.5" y="17" width="223.5" height="94.7" fill="#fff" stroke="#262626" stroke-width="1.5"/><path d="M402.3,30.7 H463.2 M432.9,22.4 V39.0" fill="none" stroke="#0072BD" stroke-width="3.0"/><path d="M426.4,22.4 H439.4 M426.4,39.0 H439.4" fill="none" stroke="#0072BD" stroke-width="2.6"/><text x="469" y="37.9" font-size="17.5" fill="#262626">Cartilage</text><path d="M402.3,52.6 H463.2 M432.9,44.3 V60.900000000000006" fill="none" stroke="#D95319" stroke-width="3.0"/><path d="M426.4,44.3 H439.4 M426.4,60.900000000000006 H439.4" fill="none" stroke="#D95319" stroke-width="2.6"/><text x="469" y="59.8" font-size="17.5" fill="#262626">Soft tissue</text><path d="M402.3,75.4 H463.2 M432.9,67.10000000000001 V83.7" fill="none" stroke="#EDB120" stroke-width="3.0"/><path d="M426.4,67.10000000000001 H439.4 M426.4,83.7 H439.4" fill="none" stroke="#EDB120" stroke-width="2.6"/><text x="469" y="82.6" font-size="17.5" fill="#262626">Bone</text><path d="M402.3,97.3 H463.2 M432.9,89.0 V105.6" fill="none" stroke="#77AC30" stroke-width="3.0"/><path d="M426.4,89.0 H439.4 M426.4,105.6 H439.4" fill="none" stroke="#77AC30" stroke-width="2.6"/><text x="469" y="104.5" font-size="17.5" fill="#262626">Subchondral Bone</text>
</svg>
</body></html>
